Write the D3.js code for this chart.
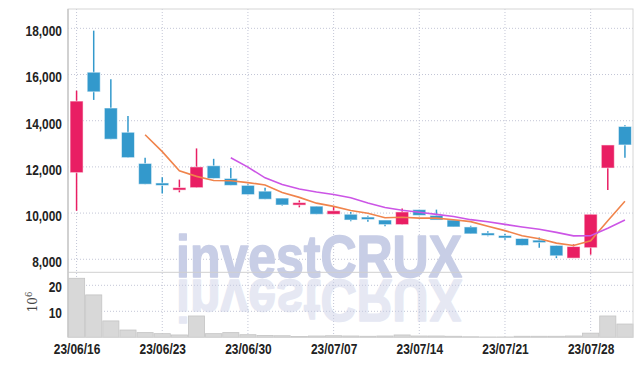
<!DOCTYPE html>
<html><head><meta charset="utf-8">
<script src="https://cdn.jsdelivr.net/npm/d3@7"></script>
<style>
html,body{margin:0;padding:0;background:#fff;}
svg{display:block;}
</style></head>
<body>
<svg id="c" width="642" height="366"></svg>
<script>
const dates = ["23/06/16","23/06/19","23/06/20","23/06/21","23/06/22","23/06/23","23/06/26","23/06/27","23/06/28","23/06/29","23/06/30","23/07/03","23/07/04","23/07/05","23/07/06","23/07/07","23/07/10","23/07/11","23/07/12","23/07/13","23/07/14","23/07/17","23/07/18","23/07/19","23/07/20","23/07/21","23/07/24","23/07/25","23/07/26","23/07/27","23/07/28","23/07/31","23/08/01"];
const open  = [11750,16100,14550,13500,12150,11300,11000,11100,12050,11500,11200,10950,10650,10350,10300, 9950, 9950, 9800, 9700, 9500,10150, 9900, 9700, 9400, 9120, 9000, 8900, 8800, 8600, 8050, 8500,11950,13750];
const high  = [15300,17900,15800,14200,12400,11550,11450,12800,12350,11950,11250,11100,10650,10550,10300,10300,10050, 9880, 9700,10200,10150,10150, 9700, 9450, 9210, 9100, 8900, 8940, 8600, 8650, 9950,12950,13800];
const low   = [10100,14900,13200,12400,11250,10850,10900,11100,11500,11200,10800,10600,10320,10250, 9950, 9950, 9650, 9630, 9430, 9500, 9900, 9700, 9400, 9100, 9000, 8850, 8600, 8500, 8050, 8050, 8200,11000,12400];
const close = [14850,15250,13200,12400,11250,11200,11100,12000,11500,11200,10800,10600,10350,10450, 9950,10100, 9700, 9750, 9500,10050, 9900, 9700, 9400, 9100, 9050, 8950, 8600, 8750, 8150, 8550, 9950,12950,12950];
const ma5   = [null,null,null,null,13390,12660,11830,11590,11410,11400,11320,11220,10890,10680,10430,10290,10110,9990,9800,9820,9780,9780,9710,9630,9430,9240,9020,8890,8700,8600,8800,9670,10510];
const ma10  = [null,null,null,null,null,null,null,null,null,12395,11990,11525,11240,11045,10915,10805,10665,10440,10240,10125,10035,9945,9850,9715,9625,9510,9400,9300,9165,9015,9020,9345,9700];
const volume = [22.7,16.3,6.3,2.8,1.8,1.4,0.9,8.2,1.4,1.8,1.0,0.7,0.6,0.3,0.5,0.6,0.5,0.4,0.5,0.9,0.5,0.5,0.4,0.2,0.1,0.1,0.4,0.4,0.4,0.5,1.6,8.2,5.1];
const priceTicks = [8000,10000,12000,14000,16000,18000];
const volTicks = [10,20];
const xTickLabels = ["23/06/16","23/06/23","23/06/30","23/07/07","23/07/14","23/07/21","23/07/28"];

const svg = d3.select("#c");
const L = 68, R = 633, T = 9, MB = 272.3, VB = 337.3;
const x = d3.scaleBand().domain(dates).range([L, R + 0.5]).paddingInner(0).paddingOuter(0);
const xc = d => x(d) + x.bandwidth() / 2;
const y = d3.scaleLinear().domain([7436, 18837]).range([MB, T]);
const yv = d3.scaleLinear().domain([0, 25]).range([VB, MB]);

const gridCol = "#c3c6d6";
const grid = svg.append("g");
priceTicks.forEach(v => grid.append("line").attr("x1", L).attr("x2", R).attr("y1", y(v)).attr("y2", y(v))
  .attr("stroke", gridCol).attr("stroke-dasharray", "1,2"));
volTicks.forEach(v => grid.append("line").attr("x1", L).attr("x2", R).attr("y1", yv(v)).attr("y2", yv(v))
  .attr("stroke", gridCol).attr("stroke-dasharray", "1,2"));
xTickLabels.forEach(d => grid.append("line").attr("x1", xc(d)).attr("x2", xc(d)).attr("y1", T).attr("y2", VB)
  .attr("stroke", gridCol).attr("stroke-dasharray", "1,2"));

// watermark (reflection is a <use> clone of the same text)
const wm = svg.append("g");
wm.append("text").attr("id", "wmtext").attr("x", 176).attr("y", 277).text("investCRUX")
  .attr("font-family", "'Liberation Sans', sans-serif").attr("font-weight", "bold")
  .attr("font-size", 60).attr("textLength", 286).attr("lengthAdjust", "spacingAndGlyphs")
  .attr("fill", "#c8cee6").attr("stroke", "#c8cee6").attr("stroke-width", 1.6).attr("stroke-linejoin", "round");
wm.append("use").attr("href", "#wmtext")
  .attr("transform", "translate(0,557) scale(1,-1)").attr("opacity", 0.45);

// volume bars
svg.append("g").selectAll("rect").data(dates).join("rect")
  .attr("x", d => x(d) + 0.5).attr("width", x.bandwidth() - 1)
  .attr("y", (d, i) => yv(volume[i])).attr("height", (d, i) => VB - yv(volume[i]))
  .attr("fill", "#d8d8d8").attr("stroke", "#c4c4c4").attr("stroke-width", 0.8);

// frame
svg.append("rect").attr("x", L).attr("y", T).attr("width", R - L).attr("height", VB - T)
  .attr("fill", "none").attr("stroke", "#d6d6d6");
svg.append("line").attr("x1", L).attr("x2", R).attr("y1", MB).attr("y2", MB).attr("stroke", "#d0d0d0");
svg.append("line").attr("x1", L).attr("x2", L).attr("y1", T).attr("y2", VB).attr("stroke", "#c8c8c8").attr("stroke-width", 1.5);

// candles
const up = "#e91e63", down = "#3399cc";
const cg = svg.append("g");
dates.forEach((d, i) => {
  const col = close[i] >= open[i] ? up : down;
  const cx = xc(d);
  cg.append("line").attr("x1", cx).attr("x2", cx).attr("y1", y(high[i])).attr("y2", y(low[i]))
    .attr("stroke", col).attr("stroke-width", 1.5);
  const top = y(Math.max(open[i], close[i])), bot = y(Math.min(open[i], close[i]));
  const h = Math.max(bot - top, 2.5);
  cg.append("rect").attr("x", cx - 6.5).attr("width", 13).attr("y", (top + bot) / 2 - h / 2).attr("height", h)
    .attr("fill", col).attr("stroke", "rgba(255,255,255,0.55)").attr("stroke-width", 1);
});

// moving averages
const line = d3.line().defined(d => d[1] != null).x(d => d[0]).y(d => y(d[1]));
svg.append("path").datum(dates.map((d, i) => [xc(d), ma5[i]])).attr("d", line)
  .attr("fill", "none").attr("stroke", "#f0844c").attr("stroke-width", 1.6);
svg.append("path").datum(dates.map((d, i) => [xc(d), ma10[i]])).attr("d", line)
  .attr("fill", "none").attr("stroke", "#cc55e6").attr("stroke-width", 1.6);

// axes labels
const font = "'Liberation Sans', sans-serif";
const yAxis = d3.axisLeft(y).tickValues(priceTicks).tickSize(0).tickPadding(6).tickFormat(d3.format(","));
const ya = svg.append("g").attr("transform", `translate(${L},2.5)`).call(yAxis);
const yvAxis = d3.axisLeft(yv).tickValues(volTicks).tickSize(0).tickPadding(6).tickFormat(d3.format("d"));
const yva = svg.append("g").attr("transform", `translate(${L},1)`).call(yvAxis);
const xAxis = d3.axisBottom(d3.scalePoint().domain(dates).range([xc(dates[0]), xc(dates[dates.length - 1])]))
  .tickValues(xTickLabels).tickSize(0).tickPadding(6);
const xa = svg.append("g").attr("transform", `translate(0,${VB})`).call(xAxis);
[ya, yva, xa].forEach(g => {
  g.select(".domain").remove();
  g.selectAll("text").attr("font-family", font).attr("font-weight", "bold").attr("font-size", 15.5)
    .attr("fill", "#222")
    .each(function () {
      const w = this.getComputedTextLength();
      d3.select(this).attr("textLength", w * 0.77).attr("lengthAdjust", "spacingAndGlyphs");
    });
});

// 10^6 label
const ul = svg.append("text").attr("transform", "translate(37,302) rotate(-90)")
  .attr("text-anchor", "middle").attr("font-family", "'DejaVu Serif', serif").attr("font-size", 12).attr("fill", "#444");
ul.append("tspan").text("10");
ul.append("tspan").text("6").attr("font-size", 8.5).attr("dy", -5);
</script>
</body></html>
